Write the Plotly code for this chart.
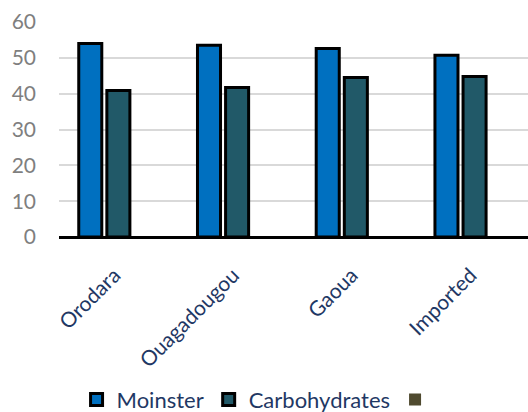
import plotly.graph_objects as go

categories = ["Orodara", "Ouagadougou", "Gaoua", "Imported"]
moinster = [54.0, 53.5, 52.6, 50.7]
carbohydrates = [40.9, 41.7, 44.5, 44.8]
third_series = [0, 0, 0, 0]
y_ticks = [0, 10, 20, 30, 40, 50, 60]

fig = go.Figure()
fig.add_trace(go.Bar(x=categories, y=moinster, name="Moinster",
                     marker=dict(color="#0070C0", line=dict(color="#000000", width=3))))
fig.add_trace(go.Bar(x=categories, y=carbohydrates, name="Carbohydrates",
                     marker=dict(color="#215968", line=dict(color="#000000", width=3))))
fig.add_trace(go.Bar(x=categories, y=third_series, name=" ",
                     marker=dict(color="#4F4A2F", line=dict(color="#4F4A2F", width=0))))

fig.update_layout(
    width=528, height=412,
    margin=dict(l=59, r=0, t=22, b=175),
    paper_bgcolor="white", plot_bgcolor="white",
    barmode="group", bargap=0.29, bargroupgap=0.18,
    font=dict(family="Lato, Open Sans, sans-serif"),
    showlegend=True,
    legend=dict(orientation="h", xref="container", yref="container",
                x=0.145, y=0.03, xanchor="left", yanchor="middle",
                font=dict(size=22, color="#1F3864"),
                itemwidth=30, tracegroupgap=0, traceorder="normal"),
    xaxis=dict(range=[-0.5, 3.45], tickangle=-45, showgrid=False,
               tickfont=dict(size=21, color="#1F3864"), ticks="",
               ticklabelstandoff=21, ticklabelshift=-4,
               showline=False, zeroline=False),
    yaxis=dict(range=[0, 60], tickvals=y_ticks, showgrid=True,
               gridcolor="#D9D9D9", gridwidth=1.5,
               zeroline=True, zerolinecolor="#000000", zerolinewidth=3,
               tickfont=dict(size=21, color="#7F7F7F"), ticklabelstandoff=22,
               showline=False),
)

fig.write_html("out.html", config={"displayModeBar": False},
               post_script="document.body.style.margin='0';document.body.style.padding='0';")
